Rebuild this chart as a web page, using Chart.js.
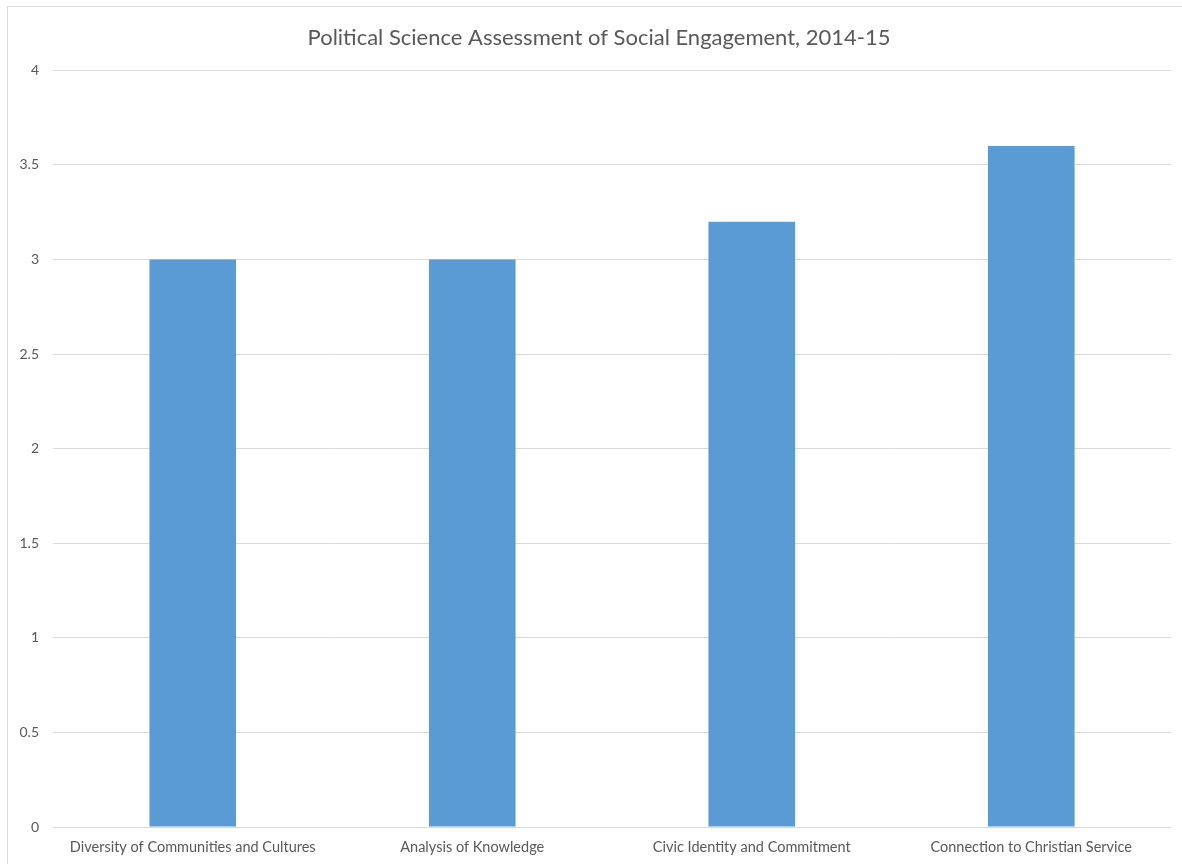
<!DOCTYPE html>
<html>
<head>
<meta charset="utf-8">
<script src="https://cdn.jsdelivr.net/npm/chart.js@4/dist/chart.umd.min.js"></script>
<style>
  html, body { margin: 0; padding: 0; background: #fff; overflow: hidden; }
  #frame { position: absolute; left: 7px; top: 6px; width: 1200px; height: 900px; border: 1px solid #d9d9d9; }
  #wrap { position: absolute; left: 0; top: 0; width: 1182px; height: 864px; }
</style>
</head>
<body>
<div id="frame"></div>
<div id="wrap"><canvas id="myChart" width="1182" height="864"></canvas></div>
<script>
'use strict';

// chart data
var categories = ['Diversity of Communities and Cultures', 'Analysis of Knowledge', 'Civic Identity and Commitment', 'Connection to Christian Service'];
var scores = [3, 3, 3.2, 3.6];
var titleText = 'Political Science Assessment of Social Engagement, 2014-15';

var fontFamily = 'Lato, "Open Sans", sans-serif';

// title in the original sits a bit right of the canvas centre
var shiftTitle = {
    id: 'shiftTitle',
    afterLayout: function (chart) {
        if (chart.titleBlock) {
            chart.titleBlock.left += 27;
        }
    }
};

var ctx = document.getElementById('myChart').getContext('2d');
var chart = new Chart(ctx, {
    type: 'bar',
    data: {
        labels: categories,
        datasets: [{
            data: scores,
            backgroundColor: '#5b9bd5',
            borderWidth: 0,
            categoryPercentage: 1,
            barPercentage: 0.31
        }]
    },
    options: {
        responsive: false,
        animation: false,
        layout: { padding: { left: 0, right: 11, top: 0, bottom: 0 } },
        plugins: {
            legend: { display: false },
            tooltip: { enabled: false },
            title: {
                display: true,
                text: titleText,
                color: '#595959',
                font: { family: fontFamily, size: 22, weight: 'normal' },
                padding: { top: 25, bottom: 19 }
            }
        },
        scales: {
            x: {
                grid: { display: false, drawTicks: false },
                border: { display: false },
                ticks: {
                    color: '#595959',
                    font: { family: fontFamily, size: 14.5 },
                    padding: 12,
                    maxRotation: 0,
                    autoSkip: false
                },
                afterFit: function (scale) { scale.height = 37; }
            },
            y: {
                min: 0,
                max: 4,
                grid: { color: '#d9d9d9', lineWidth: 1, drawTicks: false },
                border: { display: false },
                ticks: {
                    stepSize: 0.5,
                    color: '#595959',
                    font: { family: fontFamily, size: 14 },
                    padding: 14,
                    callback: function (value) { return String(value); }
                },
                afterFit: function (scale) { scale.width = 53; }
            }
        }
    },
    plugins: [shiftTitle]
});
</script>
</body>
</html>
